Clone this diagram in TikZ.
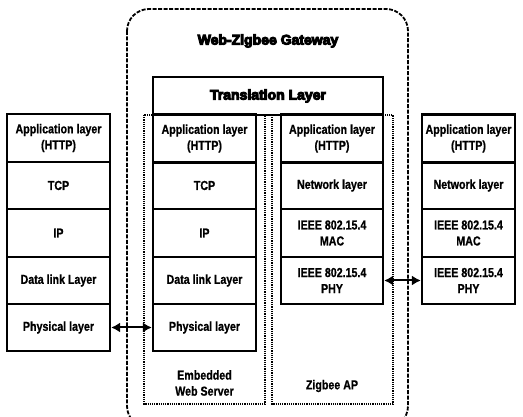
\documentclass[tikz,border=0pt]{standalone}
\usepackage{fontspec}
\setmainfont{Liberation Sans}
\newfontfamily\narrowfont{Liberation Sans Bold}[FakeStretch=0.82, FakeBold=0.8]
\newfontfamily\heavyfont{Liberation Sans Bold}[FakeBold=7]
\usetikzlibrary{arrows.meta}
\begin{document}
\begin{tikzpicture}[x=1pt,y=-1pt,
  layer/.style={draw, line width=2.2pt, inner sep=0pt, align=center,
    font=\narrowfont\fontsize{13}{16}\selectfont},
  colL/.style={layer, minimum width=103pt},
  colM/.style={layer, minimum width=103pt},
  colZ/.style={layer, minimum width=102pt},
  colR/.style={layer, minimum width=93pt},
  rowA/.style={minimum height=48pt},
  rowB/.style={minimum height=47pt},
  frame/.style={draw, dash pattern=on 4pt off 1.5pt, line width=1.8pt, rounded corners=22pt},
  sub/.style={draw, dash pattern=on 1.2pt off 1pt, line width=1.8pt},
  label/.style={font=\narrowfont\fontsize{13}{16}\selectfont, align=center},
  title/.style={font=\heavyfont\fontsize{14}{16}\selectfont},
  link/.style={line width=2pt, {Latex[length=9pt,width=10pt]}-{Latex[length=9pt,width=10pt]}}
]
\useasboundingbox (0,0) rectangle (523,417);
\clip (0,0) rectangle (523,417);
% gateway frame
\draw[frame] (127,9) rectangle (408,428);
\node[title] (gwt) at (268,41) {Web-Zigbee Gateway};
% dotted sub boxes
\draw[sub] (144,115) rectangle (265,404);
\draw[sub] (272,115) rectangle (393,404);
\node[label] (ews) at (204.5,383) {Embedded\\Web Server};
\node[label] (zap) at (332,386) {Zigbee AP};
% translation layer
\node[layer, title, minimum width=230pt, minimum height=38pt] (trans) at (268,96) {Translation Layer};
% left stack
\node[colL,rowA] (l1) at (58.5,138) {Application layer\\(HTTP)};
\node[colL,rowB] (l2) at (58.5,185.5) {TCP};
\node[colL,rowA] (l3) at (58.5,233) {IP};
\node[colL,rowB] (l4) at (58.5,280.5) {Data link Layer};
\node[colL,rowB] (l5) at (58.5,327.5) {Physical layer};
% embedded web server stack
\node[colM,rowA] (m1) at (204.5,138.5) {Application layer\\(HTTP)};
\node[colM,rowB] (m2) at (204.5,185.5) {TCP};
\node[colM,rowA] (m3) at (204.5,233) {IP};
\node[colM,rowB] (m4) at (204.5,280.5) {Data link Layer};
\node[colM,rowB] (m5) at (204.5,327.5) {Physical layer};
% zigbee AP stack
\node[colZ,rowA] (z1) at (332,138.5) {Application layer\\(HTTP)};
\node[colZ,rowB] (z2) at (332,185.5) {Network layer};
\node[colZ,rowA] (z3) at (332,233) {IEEE 802.15.4\\MAC};
\node[colZ,rowB] (z4) at (332,280.5) {IEEE 802.15.4\\PHY};
% right stack
\node[colR,rowA] (r1) at (468.5,138.5) {Application layer\\(HTTP)};
\node[colR,rowB] (r2) at (468.5,185.5) {Network layer};
\node[colR,rowA] (r3) at (468.5,233) {IEEE 802.15.4\\MAC};
\node[colR,rowB] (r4) at (468.5,280.5) {IEEE 802.15.4\\PHY};
% links
\draw[link] (l5.east) -- (m5.west);
\draw[link] (z4.east) -- (r4.west);
\end{tikzpicture}
\end{document}
